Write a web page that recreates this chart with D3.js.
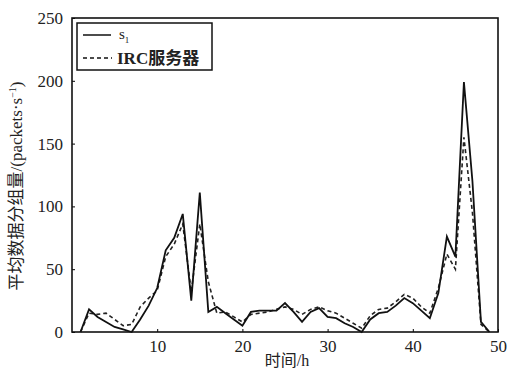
<!DOCTYPE html>
<html>
<head>
<meta charset="utf-8">
<script src="https://cdn.jsdelivr.net/npm/d3@7"></script>
<style>
  body { margin: 0; background: #fff; }
  svg { display: block; }
  svg text { font-family: "Liberation Serif", "Noto Sans CJK SC", serif !important; fill: #222; }
</style>
</head>
<body>
<svg id="chart" width="508" height="371"></svg>
<script>
// hours 1..49
const hours = d3.range(1, 50);
const s1 = [0, 18, 12, 8, 4, 2, 0, 10, 21, 35,
            65, 75, 94, 25, 111, 16, 20, 15, 10, 5,
            16, 17, 17, 17, 23, 16, 8, 16, 19, 12,
            11, 7, 4, 0, 10, 15, 16, 21, 27, 23,
            17, 11, 31, 76, 60, 199, 120, 8, 0];
const irc = [0, 15, 14, 15, 10, 5, 6, 20, 27, 33,
             60, 70, 86, 32, 86, 40, 15, 16, 12, 8,
             14, 15, 16, 18, 20, 18, 14, 18, 20, 17,
             15, 11, 7, 3, 13, 18, 19, 24, 30, 27,
             20, 15, 35, 62, 50, 155, 95, 6, 0];
const xTicks = [10, 20, 30, 40, 50];
const yTicks = [0, 50, 100, 150, 200, 250];
const seriesNames = ["s", "IRC服务器"];

const margin = { left: 72, right: 10, top: 18, bottom: 39 };
const svg = d3.select("#chart");
const W = 508, H = 371;
const x = d3.scaleLinear().domain([0, 50]).range([margin.left, W - margin.right]);
const y = d3.scaleLinear().domain([0, 250]).range([H - margin.bottom, margin.top]);

// axes with small inward ticks
svg.append("g")
    .attr("transform", `translate(0,${y(0)})`)
    .call(d3.axisBottom(x).tickValues(xTicks).tickSize(-3).tickPadding(8))
    .call(g => g.select(".domain").remove())
    .call(g => g.selectAll("text").attr("font-size", 17).attr("fill", "#333"));

svg.append("g")
    .attr("transform", `translate(${x(0)},0)`)
    .call(d3.axisLeft(y).tickValues(yTicks).tickSize(-3).tickPadding(9))
    .call(g => g.select(".domain").remove())
    .call(g => g.selectAll("text").attr("font-size", 17).attr("fill", "#333"));

// frame
svg.append("rect")
    .attr("x", x(0)).attr("y", y(250))
    .attr("width", x(50) - x(0)).attr("height", y(0) - y(250))
    .attr("fill", "none").attr("stroke", "#111").attr("stroke-width", 1.6);

const line = d3.line().x((d, i) => x(hours[i])).y(d => y(d));

svg.append("path").datum(irc)
    .attr("d", line).attr("fill", "none")
    .attr("stroke", "#222").attr("stroke-width", 1.6)
    .attr("stroke-dasharray", "4,3");

svg.append("path").datum(s1)
    .attr("d", line).attr("fill", "none")
    .attr("stroke", "#111").attr("stroke-width", 1.8);

// legend
const lg = svg.append("g");
lg.append("rect").attr("x", 77).attr("y", 23).attr("width", 135).attr("height", 47)
    .attr("fill", "#fff").attr("stroke", "#111").attr("stroke-width", 1.5);
lg.append("line").attr("x1", 83).attr("x2", 111).attr("y1", 35).attr("y2", 35)
    .attr("stroke", "#111").attr("stroke-width", 1.5);
lg.append("line").attr("x1", 83).attr("x2", 112).attr("y1", 58).attr("y2", 58)
    .attr("stroke", "#111").attr("stroke-width", 1.5).attr("stroke-dasharray", "4,3");
const t1 = lg.append("text").attr("x", 119).attr("y", 39).attr("font-size", 15);
t1.append("tspan").text(seriesNames[0]);
t1.append("tspan").attr("dy", 4).attr("font-size", 9).text("1");
lg.append("text").attr("x", 117).attr("y", 64).attr("font-size", 17)
    .attr("font-weight", "bold").text(seriesNames[1]);

// axis titles
svg.append("text").attr("x", x(25) + 2).attr("y", 366)
    .attr("text-anchor", "middle").attr("font-size", 16).text("时间/h");

const yl = svg.append("text")
    .attr("transform", "translate(22,186) rotate(-90)")
    .attr("text-anchor", "middle").attr("font-size", 17);
yl.append("tspan").text("平均数据分组量/(packets·s");
yl.append("tspan").attr("dy", -6).attr("font-size", 10).text("−1");
yl.append("tspan").attr("dy", 6).text(")");
</script>
</body>
</html>
